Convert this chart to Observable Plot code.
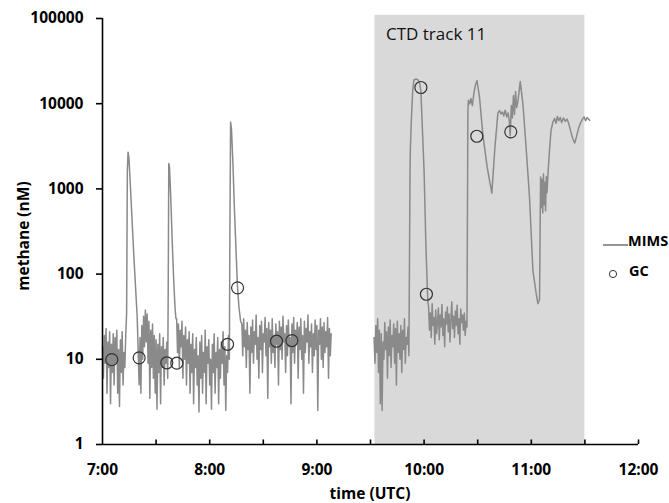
<!DOCTYPE html>
<html><head><meta charset="utf-8">
<script src="https://cdn.jsdelivr.net/npm/d3@7"></script>
<script src="https://cdn.jsdelivr.net/npm/@observablehq/plot@0.6"></script>
<style>
body{margin:0;background:#fff;}
#wrap{position:relative;width:669px;height:503px;font-family:"Open Sans",sans-serif;overflow:hidden;}
#wrap svg.plot{position:absolute;left:0;top:0;}
.lbl{position:absolute;font-weight:bold;font-size:15.5px;line-height:1;color:#000;white-space:nowrap;}
</style></head><body><div id="wrap"></div>
<script>
// time in minutes after 7:00 UTC; methane in nM
// noisy MIMS stretches: values every 0.5 min from the given start
const baseA1Start = 0;
const baseA1 = [14,6,19,9,23,4,16,8,21,3,15,7,20,5,18,9,22,4,13,2.8,17,7,21,5,12,8,19];
const peak1 = [[13.5,35],[13.9,1600],[14.3,2700],[14.8,2300],[15.5,1200],[16.5,450],[17.5,170],[18.5,70],[19.4,32]];
const baseA2Start = 20;
const baseA2 = [12,5,18,4,25,10,32,14,38,16,34,9,28,3.5,22,8,26,6,19,4,17,2.6,15,7,20,3,14,8,18,5,13,9,16,6];
const peak2 = [[36.8,80],[37.1,1990],[37.5,1800],[38.2,800],[39.0,250],[39.8,90],[40.6,40],[41.1,30]];
const baseA3Start = 41.5;
const baseA3 = [30,12,26,8,22,14,28,6,19,10, 24,5,17,9,21,4,15,7,20,3, 13,8,18,5,11,2.4,16,6,19,4,
  12,7,22,3,14,9,17,5,10,2.6, 15,7,20,4,12,8,18,3,13,6, 16,9,21,5,14,2.5,11,7,19,10];
const peak3 = [[71.3,300],[71.7,6100],[72.2,5000],[73.0,2000],[73.8,600],[74.7,200],[75.5,75],[76.4,40],[77.3,28]];
const baseA4Start = 78;
const baseA4 = [26,11,30,14,22,8,27,13,19,4, 24,12,29,9,21,15,33,10,18,6, 25,13,28,7,20,16,31,11,23,3.5,
  27,14,22,9,30,12,19,8,26,15, 21,5,28,13,24,10,32,16,20,7, 25,11,29,14,18,3,26,12,31,9,
  22,15,27,6,24,13,30,10,19,4, 28,12,23,16,33,9,21,14,26,7, 20,11,29,13,25,2.5,22,15,30,10,
  24,8,27,12,21,14,31,6,23,11, 20];
const baseB1Start = 152;
const baseB1 = [18,9,25,12,30,7,22,3,20,2.5, 16,10,27,13,21,6,24,11,29,8, 19,14,26,9,23,5,28,12,20,10, 25,7,22,13,30,9,18,15,24,11];
const peak4 = [[172.1,1500],[172.3,2850],[172.8,6000],[173.6,14000],[174.3,19000],[175.5,19500],[176.6,19000],[177.5,17500],[178.2,14000],[178.9,6000],[180.0,1600],[181.0,220],[181.9,60],[182.2,45]];
const baseB2Start = 182.5;
const baseB2 = [42,22,35,18,45,25,31,15,38,20, 28,40,17,33,24,44,19,30,14,36, 26,41,21,34,16,29,47,23,32,18,
  37,25,43,20,30,15,39,27,33,22, 35,19,28,24];
const peak5 = [[204.5,8000],[204.8,11000],[205.5,10000],[206.2,11500],[207.0,9500],[207.8,13000],[208.7,16500],[209.6,18700],
  [211.0,12000],[212.9,4300],[215.3,1800],[217.9,890],[219.6,3000],[221.3,7800],[222.2,8300],[223.0,7600],[223.8,8000],
  [224.6,7200],[225.4,8400],[226.2,7000],[227.0,7800],[227.6,6500],[228.2,4200],[228.8,9500],[229.4,6800],[230.0,12500],
  [230.6,7500],[231.2,13900],[231.8,9000],[232.6,11000],[233.8,18200],[235.3,10000],[237.2,2850],[239.0,800],[240.9,110],
  [242.8,58],[243.7,45],[244.6,50]];
const tailB = [[245.2,1380],[245.6,600],[246.0,1300],[246.4,520],[246.8,1500],[247.2,650],[247.6,1200],[248.0,550],[248.4,1400],
  [248.8,900],[249.4,1600],[250.2,2850],[251.0,4800],[252.1,6100],[253.0,6700],[253.8,5900],[254.6,7100],[255.4,6300],
  [256.2,6900],[257.0,6000],[258.0,6800],[259.0,6200],[260.0,6600],[261.0,5800],[262.0,4800],[263.2,3900],[264.3,3450],
  [265.3,4100],[266.5,5200],[267.5,5900],[268.5,6500],[269.5,7000],[270.4,6300],[271.2,6900],[272.0,6600],[272.7,6400]];

// GC discrete samples
const gcTime = [5.2,20.5,36.0,41.6,70.0,75.6,97.4,106.0,178.2,181.3,209.5,228.5];
const gcValue = [9.9,10.4,9.1,9.0,15,69,16.3,16.6,15500,58,4150,4670];

// CTD track shading
const ctdLabel = "CTD track 11";
const ctdStart = 152.5, ctdEnd = 270, ctdLow = 1, ctdHigh = 109000;

const yTicks = [1,10,100,1000,10000,100000];
const xMajor = [0,60,120,180,240,300];
const xMinor = [30,60,90,120,150,180,210,240,270,300];
const minorTickReach = 1.13; // inward x-tick length, in axis units above the floor of 1 nM

const noisy = (start, vals, seg) => vals.map((v,i) => ({t: start + i*0.5, v, seg}));
const pairs = (arr, seg) => arr.map(([t,v]) => ({t, v, seg}));
const mims = [
  ...noisy(baseA1Start, baseA1, "a"), ...pairs(peak1, "a"),
  ...noisy(baseA2Start, baseA2, "a"), ...pairs(peak2, "a"),
  ...noisy(baseA3Start, baseA3, "a"), ...pairs(peak3, "a"),
  ...noisy(baseA4Start, baseA4, "a"),
  ...noisy(baseB1Start, baseB1, "b"), ...pairs(peak4, "b"),
  ...noisy(baseB2Start, baseB2, "b"), ...pairs(peak5, "b"), ...pairs(tailB, "b")
];
const gc = gcTime.map((t,i) => ({t, v: gcValue[i]}));
const ctd = [{label: ctdLabel, start: ctdStart, end: ctdEnd, low: ctdLow, high: ctdHigh}];

const chart = Plot.plot({
  width: 669, height: 503,
  marginLeft: 102, marginRight: 31, marginTop: 18, marginBottom: 59,
  style: {fontFamily: "'Open Sans', sans-serif", fontSize: "15.5px", fontWeight: "bold", color: "#000", background: "transparent"},
  x: {domain: [0, 300]},
  y: {type: "log", domain: [1, 100000]},
  marks: [
    Plot.rect(ctd, {x1: "start", x2: "end", y1: "low", y2: "high", fill: "#d9d9d9"}),
    Plot.text(ctd, {x: "start", y: "high", text: "label", textAnchor: "start", lineAnchor: "top", dx: 11, dy: 13, fontSize: 17, fontWeight: "normal", fill: "#111"}),
    Plot.line(mims, {x: "t", y: "v", z: "seg", stroke: "#8a8a8a", strokeWidth: 1.5}),
    Plot.dot(gc, {x: "t", y: "v", r: 6, stroke: "#333", strokeWidth: 1.2, fill: "none"}),
    Plot.ruleX([0], {stroke: "#000", strokeWidth: 1.6}),
    Plot.ruleY([1], {stroke: "#000", strokeWidth: 1.6}),
    Plot.ruleX(xMinor, {x: d => d, y1: 1, y2: minorTickReach, stroke: "#000", strokeWidth: 1.6}),
    Plot.axisY({ticks: yTicks, tickSize: 6, tickPadding: 13, tickFormat: d => String(d), label: null, stroke: "#000", strokeWidth: 1.6}),
    Plot.axisX({ticks: xMajor, tickSize: 0, tickPadding: 19, tickFormat: t => `${7 + t/60}:00`, label: null})
  ]
});
chart.classList.add("plot");
const wrap = document.getElementById("wrap");
wrap.appendChild(chart);

const add = (html, style) => { const d = document.createElement("div"); d.className = "lbl"; d.innerHTML = html; Object.assign(d.style, style); wrap.appendChild(d); };
add("time (UTC)", {left: "370px", top: "486px", transform: "translateX(-50%)"});
add("methane (nM)", {left: "24px", top: "236px", transform: "translate(-50%,-50%) rotate(-90deg)"});
// legend
add('<svg width="26" height="6" style="vertical-align:middle"><line x1="0" x2="25" y1="3" y2="3" stroke="#8a8a8a" stroke-width="1.8"/></svg>', {left: "603px", top: "236px"});
add("MIMS", {left: "628px", top: "234px", fontSize: "14.5px"});
add('<svg width="10" height="10"><circle cx="5" cy="5" r="3.6" fill="none" stroke="#333" stroke-width="1"/></svg>', {left: "608px", top: "266px"});
add("GC", {left: "629px", top: "264px", fontSize: "14.5px"});
</script></body></html>
